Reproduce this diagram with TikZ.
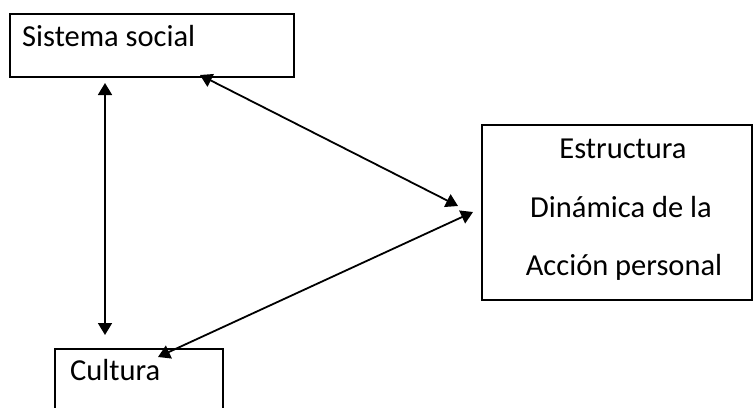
\documentclass[tikz,border=0pt]{standalone}
\usepackage{fontspec}
\setmainfont{Carlito}
\usetikzlibrary{arrows.meta}
\begin{document}
\begin{tikzpicture}[x=1pt,y=-1pt,
  frame/.style={line width=2.4pt},
  lbl/.style={anchor=base west,inner sep=0pt,font=\fontsize{30.5}{34}\selectfont},
  clbl/.style={anchor=base,inner sep=0pt,font=\fontsize{30.5}{34}\selectfont},
  link/.style={line width=1.8pt,{Triangle[length=12pt,width=14pt]}-{Triangle[length=12pt,width=14pt]}}]
\useasboundingbox (0,0) rectangle (755,407);
\clip (0,0) rectangle (755,407);
% boxes
\draw[frame] (10,14) rectangle (294,77);
\draw[frame] (482,125) rectangle (752,300);
\draw[frame] (55,420) -- (55,349) -- (223,349) -- (223,420);
\node[lbl] (ss) at (22,46) {Sistema social};
\node[lbl] (cu) at (70,380) {Cultura};
\node[clbl] (e1) at (623,158) {Estructura};
\node[clbl] (e2) at (621,217) {Dinámica de la};
\node[clbl] (e3) at (624,275) {Acción personal};
% connector end points
\coordinate (ssA) at (105,83);
\coordinate (cuA) at (105,335);
\coordinate (ssB) at (200,75);
\coordinate (edB) at (458,206);
\coordinate (edC) at (473,212);
\coordinate (cuC) at (158,357);
\draw[link] (ssA) -- (cuA);
\draw[link] (ssB) -- (edB);
\draw[link] (edC) -- (cuC);
\end{tikzpicture}
\end{document}
